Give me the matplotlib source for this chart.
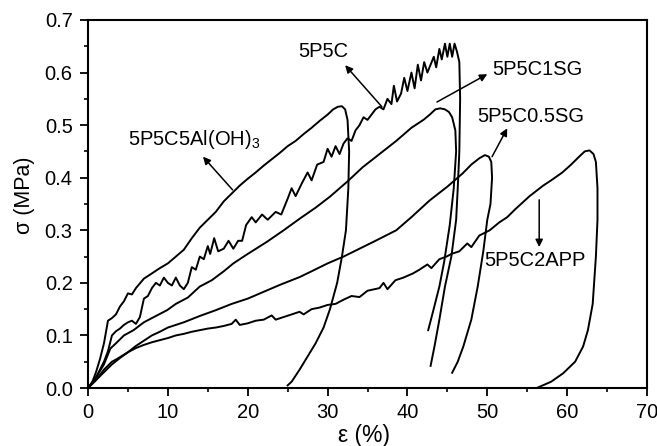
import matplotlib
matplotlib.use('Agg')
import matplotlib.pyplot as plt
from matplotlib.ticker import MultipleLocator

plt.rcParams['font.family'] = ['Liberation Sans', 'DejaVu Sans']
plt.rcParams['mathtext.default'] = 'regular'

# stress-strain loops (strain %, stress MPa), loading then unloading
al_x = [0, 0.5, 1, 1.5, 2, 2.5, 3, 3.5, 4, 4.5, 5, 5.5, 6, 7, 8, 9, 10, 11,
        12, 13, 14, 15, 16, 17, 18, 19, 20, 21, 22, 23, 24, 25, 26, 27, 28,
        29, 30, 30.7, 31.3, 31.8, 32.2, 32.5, 32.7, 32.6, 32.3, 31.8, 31.2,
        30.3, 29.5, 28.5, 27.5, 26.5, 25.5, 25]
al_y = [0, 0.01, 0.03, 0.055, 0.085, 0.128, 0.133, 0.14, 0.155, 0.165, 0.18,
        0.178, 0.19, 0.208, 0.218, 0.228, 0.237, 0.25, 0.263, 0.285, 0.305,
        0.32, 0.335, 0.355, 0.37, 0.385, 0.398, 0.41, 0.423, 0.435, 0.447,
        0.46, 0.47, 0.483, 0.495, 0.508, 0.52, 0.53, 0.535, 0.536, 0.53,
        0.51, 0.45, 0.38, 0.3, 0.25, 0.2, 0.15, 0.115, 0.085, 0.06, 0.035,
        0.012, 0.005]

c_x = [0, 1, 2, 2.5, 3, 3.5, 4, 4.5, 5, 5.5, 6, 6.5, 7, 7.5, 8, 8.5, 9, 9.5,
       10, 10.5, 11, 11.5, 12, 12.5, 13, 13.5, 14, 14.5, 15, 15.3, 15.8, 16.3,
       17, 17.6, 18.2, 18.8, 19.3, 19.8, 20.5, 21, 21.8, 22.5, 23.5, 24.2, 25,
       25.5, 26, 26.8, 27.5, 28, 28.7, 29.5, 30, 30.5, 31, 31.5, 32, 32.5, 33,
       33.5, 34, 34.5, 35, 35.5, 36, 36.5, 37, 37.5, 38, 38.3, 38.7, 39.2,
       39.6, 40, 40.5, 40.9, 41.3, 41.7, 42.1, 42.5, 42.9, 43.3, 43.6, 44,
       44.3, 44.7, 45, 45.3, 45.6, 45.9, 46.2, 46.5, 46.6, 46.5, 46.3, 46.1,
       45.5, 44.7, 44, 43.4, 42.9]
c_y = [0, 0.02, 0.05, 0.07, 0.1, 0.108, 0.113, 0.12, 0.125, 0.128, 0.122,
       0.135, 0.17, 0.175, 0.19, 0.2, 0.195, 0.21, 0.2, 0.195, 0.21, 0.195,
       0.188, 0.2, 0.23, 0.225, 0.25, 0.245, 0.27, 0.255, 0.285, 0.26, 0.265,
       0.28, 0.265, 0.28, 0.28, 0.31, 0.325, 0.315, 0.33, 0.32, 0.335, 0.33,
       0.36, 0.38, 0.365, 0.39, 0.41, 0.395, 0.425, 0.43, 0.455, 0.44, 0.46,
       0.445, 0.465, 0.475, 0.47, 0.49, 0.5, 0.515, 0.51, 0.52, 0.53, 0.535,
       0.53, 0.55, 0.54, 0.575, 0.545, 0.56, 0.59, 0.565, 0.6, 0.57, 0.615,
       0.585, 0.62, 0.6, 0.615, 0.63, 0.61, 0.645, 0.625, 0.655, 0.63, 0.655,
       0.63, 0.655, 0.64, 0.62, 0.55, 0.45, 0.38, 0.32, 0.25, 0.193, 0.13,
       0.08, 0.042]

sg1_x = [0, 1, 2, 2.8, 3.5, 4.5, 5.7, 7, 8.5, 9.9, 11, 12.5, 14, 15.5, 17,
         18.2, 20, 22.4, 24.5, 26.5, 28.5, 30.3, 32.5, 34.4, 36.5, 38.6, 40.5,
         42, 42.8, 43.5, 44.1, 44.7, 45.2, 45.6, 46, 46.1, 45.8, 45.3, 44.6,
         44, 43.2, 42.6]
sg1_y = [0, 0.02, 0.045, 0.075, 0.085, 0.1, 0.11, 0.125, 0.137, 0.148, 0.16,
         0.172, 0.193, 0.205, 0.222, 0.237, 0.255, 0.278, 0.3, 0.322, 0.343,
         0.364, 0.393, 0.42, 0.445, 0.47, 0.495, 0.51, 0.52, 0.53, 0.532,
         0.53, 0.525, 0.515, 0.49, 0.45, 0.38, 0.31, 0.24, 0.193, 0.145, 0.11]

sg05_x = [0, 1, 2, 3, 3.6, 5, 6, 7, 8, 9, 10, 12, 14, 16, 18, 20, 22, 24,
          26.5, 28, 30, 32, 34, 36, 38.6, 40.5, 42.8, 45, 46.9, 48, 49, 49.7,
          50.2, 50.5, 50.6, 50.4, 50, 49.5, 48.8, 48, 47, 46.3, 45.6]
sg05_y = [0, 0.015, 0.035, 0.05, 0.055, 0.068, 0.08, 0.09, 0.1, 0.107, 0.115,
          0.125, 0.137, 0.148, 0.16, 0.17, 0.183, 0.196, 0.211, 0.222, 0.237,
          0.25, 0.265, 0.28, 0.3, 0.325, 0.357, 0.383, 0.408, 0.425, 0.437,
          0.443, 0.44, 0.43, 0.4, 0.35, 0.32, 0.26, 0.193, 0.13, 0.079, 0.05,
          0.029]

app_x = [0, 1, 2, 3, 4, 5, 6, 7, 8, 9, 10, 11, 12, 13, 14, 15, 16, 17, 18,
         18.5, 19, 20, 21, 22, 23, 23.5, 24.5, 25.5, 26.5, 27, 28, 29, 30, 31,
         32, 33, 34, 35, 36.5, 37, 37.5, 38.5, 39.5, 40.7, 41.5, 42.5, 43, 44,
         44.9, 45.5, 46.5, 47.5, 48, 49, 50.3, 51.5, 52.5, 53.5, 55.3, 57, 58,
         59.4, 60.5, 61.5, 62.2, 62.8, 63.3, 63.6, 63.8, 63.8, 63.6, 63.2,
         62.6, 62, 61, 59.5, 58, 56.2]
app_y = [0, 0.015, 0.03, 0.045, 0.057, 0.068, 0.076, 0.082, 0.087, 0.091,
         0.095, 0.1, 0.103, 0.107, 0.11, 0.113, 0.115, 0.118, 0.122, 0.13,
         0.12, 0.123, 0.128, 0.13, 0.138, 0.13, 0.135, 0.14, 0.145, 0.14,
         0.15, 0.153, 0.158, 0.16, 0.168, 0.175, 0.173, 0.185, 0.19, 0.2,
         0.188, 0.205, 0.21, 0.218, 0.225, 0.235, 0.228, 0.245, 0.25, 0.255,
         0.26, 0.275, 0.268, 0.29, 0.3, 0.315, 0.325, 0.34, 0.365, 0.385,
         0.395, 0.41, 0.425, 0.44, 0.45, 0.452, 0.445, 0.43, 0.38, 0.32, 0.25,
         0.16, 0.11, 0.079, 0.05, 0.028, 0.012, 0.0]

# label text, text anchor (x, y), arrow tail, arrow head
labels = ['5P5C5Al(OH)$_3$', '5P5C', '5P5C1SG', '5P5C0.5SG', '5P5C2APP']
label_pos = [(5.0, 0.472), (26.3, 0.641), (50.6, 0.605), (48.75, 0.516),
             (49.6, 0.242)]
arrow_tail = [(18.1, 0.377), (36.8, 0.535), (43.7, 0.544), (50.6, 0.44),
              (56.5, 0.358)]
arrow_head = [(14.4, 0.44), (32.2, 0.614), (50.0, 0.597), (52.5, 0.494),
              (56.5, 0.268)]

fig = plt.figure(figsize=(6.57, 4.46), dpi=100)
ax = fig.add_axes([88 / 657, 58 / 446, 559 / 657, 368 / 446])

for xs, ys in [(al_x, al_y), (c_x, c_y), (sg1_x, sg1_y), (sg05_x, sg05_y),
               (app_x, app_y)]:
    ax.plot(xs, ys, color='black', lw=1.4)

for txt, pos, tail, head in zip(labels, label_pos, arrow_tail, arrow_head):
    ax.text(pos[0], pos[1], txt, ha='left', va='center', fontsize=14.5)
    ax.annotate('', xy=head, xytext=tail,
                arrowprops=dict(arrowstyle='-|>', color='black', lw=1.1,
                                mutation_scale=11, shrinkA=0, shrinkB=0))

ax.set_xlim(0, 70)
ax.set_ylim(0, 0.7)
ax.xaxis.set_major_locator(MultipleLocator(10))
ax.xaxis.set_minor_locator(MultipleLocator(5))
ax.yaxis.set_major_locator(MultipleLocator(0.1))
ax.yaxis.set_minor_locator(MultipleLocator(0.05))
ax.yaxis.set_major_formatter(plt.FuncFormatter(lambda v, p: '%.1f' % v))
ax.tick_params(which='major', direction='out', length=6, width=1.3,
               labelsize=14.5, pad=5, top=False, right=False)
ax.tick_params(which='minor', direction='out', length=3, width=1.2,
               top=False, right=False)
for side in ax.spines:
    ax.spines[side].set_linewidth(1.5)

ax.set_xlabel('ε (%)', fontsize=16.5, va='center')
ax.xaxis.set_label_coords(0.494, -0.130)
ax.set_ylabel('σ (MPa)', fontsize=15.5, va='center')
ax.yaxis.set_label_coords(-0.113, 0.524)

fig.savefig('out.png', dpi=100)
